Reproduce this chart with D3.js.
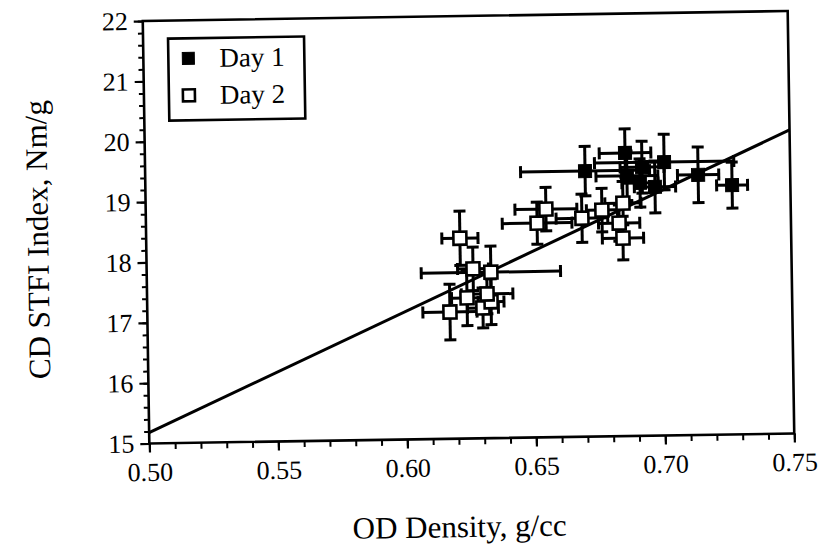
<!DOCTYPE html>
<html><head><meta charset="utf-8">
<script src="https://cdn.jsdelivr.net/npm/d3@7/dist/d3.min.js"></script>
<style>body{margin:0;background:#fff}svg{display:block}</style>
</head><body>
<svg id="chart" width="820" height="547"></svg>
<script>
// ---- data ----
const xTicks = [0.50, 0.55, 0.60, 0.65, 0.70, 0.75];
const yTicks = [15, 16, 17, 18, 19, 20, 21, 22];
const seriesNames = ["Day 1", "Day 2"];
// Day 1: density, STFI, density error, STFI error
const day1X  = [0.6705, 0.6861, 0.6926, 0.6867, 0.6975, 0.7012, 0.7143, 0.7274, 0.6917];
const day1Y  = [19.40, 19.69, 19.45, 19.31, 19.12, 19.53, 19.31, 19.13, 19.19];
const day1EX = [0.025, 0.010, 0.0085, 0.012, 0.008, 0.027, 0.008, 0.006, 0.007];
const day1EY = [0.41, 0.40, 0.43, 0.41, 0.43, 0.46, 0.46, 0.38, 0.40];
// Day 2
const day2X  = [0.6216, 0.6265, 0.6334, 0.6173, 0.6240, 0.6301, 0.6333, 0.6318, 0.6551, 0.6516, 0.6690, 0.6768, 0.6850, 0.6834, 0.6848];
const day2Y  = [18.32, 17.81, 17.75, 17.10, 17.33, 17.16, 17.26, 17.39, 18.78, 18.55, 18.62, 18.75, 18.86, 18.53, 18.28];
const day2EX = [0.007, 0.006, 0.027, 0.0105, 0.006, 0.006, 0.005, 0.010, 0.012, 0.0135, 0.010, 0.006, 0.007, 0.008, 0.008];
const day2EY = [0.45, 0.36, 0.43, 0.46, 0.46, 0.33, 0.38, 0.33, 0.36, 0.35, 0.40, 0.36, 0.36, 0.30, 0.36];
// fitted line endpoints
const fitX = [0.50, 0.75];
const fitY = [15.18, 20.03];

// ---- layout ----
const L = 146, R = 791, T = 16, B = 438.5;
const font = "'Liberation Serif','DejaVu Serif',serif";
const svg = d3.select("#chart");
const g = svg.append("g").attr("transform", "rotate(-0.89,468,227)");

const x = d3.scaleLinear().domain([0.50, 0.75]).range([L, R]);
const y = d3.scaleLinear().domain([15, 22]).range([B, T]);

// frame
g.append("rect").attr("x", L).attr("y", T).attr("width", R - L).attr("height", B - T)
  .attr("fill", "none").attr("stroke", "#000").attr("stroke-width", 2.6);

// x axis
const xMinor = d3.range(50, 76, 1).map(v => v / 100);
const xAx = g.append("g").attr("transform", `translate(0,${B})`)
  .call(d3.axisBottom(x).tickValues(xMinor).tickSize(6).tickFormat(""));
xAx.select(".domain").remove();
xAx.selectAll("line").attr("stroke", "#000").attr("stroke-width", 2);
const xAx2 = g.append("g").attr("transform", `translate(0,${B})`)
  .call(d3.axisBottom(x).tickValues(xTicks).tickSize(9).tickPadding(10).tickFormat(d3.format(".2f")));
xAx2.select(".domain").remove();
xAx2.selectAll("line").attr("stroke", "#000").attr("stroke-width", 2.2);
xAx2.selectAll("text").attr("font-family", font).attr("font-size", 26).attr("fill", "#000");

// y axis
const yMinor = d3.range(150, 221, 2).map(v => v / 10);
const yAx = g.append("g").attr("transform", `translate(${L},0)`)
  .call(d3.axisLeft(y).tickValues(yMinor).tickSize(5).tickFormat(""));
yAx.select(".domain").remove();
yAx.selectAll("line").attr("stroke", "#000").attr("stroke-width", 2);
const yAx2 = g.append("g").attr("transform", `translate(${L},0)`)
  .call(d3.axisLeft(y).tickValues(yTicks).tickSize(9).tickPadding(6).tickFormat(d3.format("d")));
yAx2.select(".domain").remove();
yAx2.selectAll("line").attr("stroke", "#000").attr("stroke-width", 2.2);
yAx2.selectAll("text").attr("font-family", font).attr("font-size", 26).attr("fill", "#000");

// titles
g.append("text").attr("x", 455).attr("y", 537).attr("text-anchor", "middle")
  .attr("font-family", font).attr("font-size", 31).text("OD Density, g/cc");
g.append("text").attr("transform", "translate(48,233) rotate(-90)").attr("text-anchor", "middle")
  .attr("font-family", font).attr("font-size", 31).text("CD STFI Index, Nm/g");

// fit line
g.append("line").attr("x1", x(fitX[0])).attr("y1", y(fitY[0])).attr("x2", x(fitX[1])).attr("y2", y(fitY[1]))
  .attr("stroke", "#000").attr("stroke-width", 3);

// data rows
const d1 = day1X.map((v, i) => ({x: v, y: day1Y[i], ex: day1EX[i], ey: day1EY[i], s: 0}));
const d2 = day2X.map((v, i) => ({x: v, y: day2Y[i], ex: day2EX[i], ey: day2EY[i], s: 1}));
const all = d2.concat(d1);
const cap = 6;
const eb = g.append("g").attr("stroke", "#000").attr("stroke-width", 3);
all.forEach(d => {
  const cx = x(d.x), cy = y(d.y);
  const x0 = x(d.x - d.ex), x1 = x(d.x + d.ex), y0 = y(d.y - d.ey), y1 = y(d.y + d.ey);
  eb.append("line").attr("x1", x0).attr("x2", x1).attr("y1", cy).attr("y2", cy);
  eb.append("line").attr("x1", cx).attr("x2", cx).attr("y1", y0).attr("y2", y1);
  eb.append("line").attr("x1", x0).attr("x2", x0).attr("y1", cy - cap).attr("y2", cy + cap);
  eb.append("line").attr("x1", x1).attr("x2", x1).attr("y1", cy - cap).attr("y2", cy + cap);
  eb.append("line").attr("x1", cx - cap).attr("x2", cx + cap).attr("y1", y0).attr("y2", y0);
  eb.append("line").attr("x1", cx - cap).attr("x2", cx + cap).attr("y1", y1).attr("y2", y1);
});
const ms = 13;
g.append("g").selectAll("rect").data(all).join("rect")
  .attr("x", d => x(d.x) - ms / 2).attr("y", d => y(d.y) - ms / 2)
  .attr("width", ms).attr("height", ms)
  .attr("fill", d => d.s === 0 ? "#000" : "#fff")
  .attr("stroke", "#000").attr("stroke-width", d => d.s === 0 ? 1 : 2.6);

// legend
const lg = g.append("g").attr("transform", "translate(171,34)");
lg.append("rect").attr("width", 136).attr("height", 82).attr("fill", "#fff")
  .attr("stroke", "#000").attr("stroke-width", 2.6);
seriesNames.forEach((n, i) => {
  const yy = 20 + i * 37;
  lg.append("rect").attr("x", 14).attr("y", yy - 6).attr("width", 12).attr("height", 12)
    .attr("fill", i === 0 ? "#000" : "#fff").attr("stroke", "#000").attr("stroke-width", i === 0 ? 1 : 2.6);
  lg.append("text").attr("x", 51).attr("y", yy + 9).attr("font-family", font).attr("font-size", 27).text(n);
});
</script>
</body></html>
